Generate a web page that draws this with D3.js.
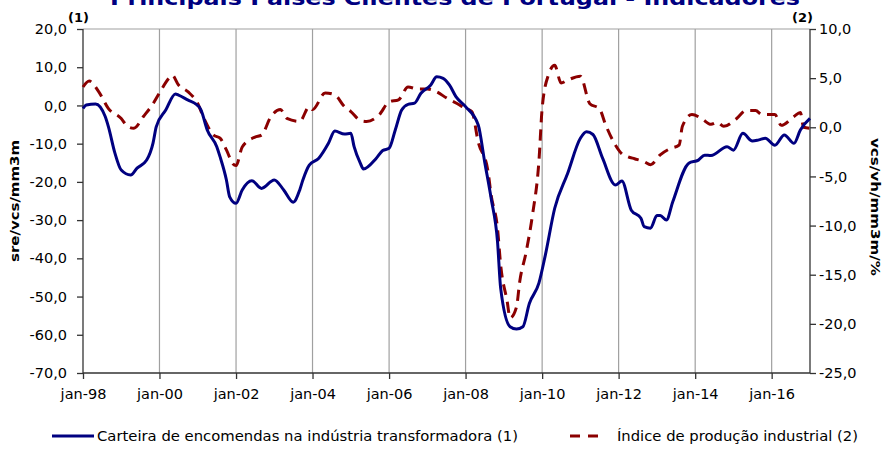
<!DOCTYPE html>
<html><head><meta charset="utf-8">
<script src="https://cdn.jsdelivr.net/npm/d3@7"></script>
<style>body{margin:0;background:#fff;} svg{display:block;} text{font-family:"DejaVu Sans",sans-serif;}</style>
</head><body>
<svg id="c" width="888" height="450"></svg>
<script>
const title = "Principais Países Clientes de Portugal - Indicadores";
const leftTicks = [20,10,0,-10,-20,-30,-40,-50,-60,-70];
const rightTicks = [10,5,0,-5,-10,-15,-20,-25];
const xTickYears = [1998,2000,2002,2004,2006,2008,2010,2012,2014,2016];
const seriesNames = ["Carteira de encomendas na indústria transformadora (1)", "Índice de produção industrial (2)"];

const carteiraDates = ["1998-01","1998-02","1998-05","1998-08","1998-09","1998-11","1999-01","1999-04","1999-06","1999-09","1999-11","1999-12","2000-03","2000-06","2000-07","2000-10","2000-12","2001-02","2001-04","2001-07","2001-08","2001-10","2001-11","2002-01","2002-03","2002-06","2002-09","2003-01","2003-04","2003-07","2003-09","2003-10","2003-12","2004-03","2004-06","2004-08","2004-11","2005-01","2005-02","2005-04","2005-05","2005-09","2005-11","2006-01","2006-03","2006-05","2006-07","2006-09","2006-11","2007-02","2007-04","2007-06","2007-08","2007-10","2008-01","2008-05","2008-07","2008-09","2008-11","2008-12","2009-03","2009-05","2009-07","2009-09","2009-12","2010-02","2010-05","2010-09","2011-01","2011-03","2011-05","2011-08","2011-12","2012-02","2012-05","2012-08","2012-09","2012-11","2013-01","2013-02","2013-04","2013-06","2013-11","2014-02","2014-04","2014-06","2014-11","2015-01","2015-04","2015-07","2015-09","2015-11","2016-02","2016-05","2016-08","2016-10","2017-01"];
const carteiraValues = [-0.8,0.1,0.4,-2.9,-5.6,-12.4,-16.9,-18.2,-16.4,-14.3,-9.8,-5.6,-1.2,3.0,2.7,1.4,0.6,-1.2,-6.4,-10.8,-13.4,-19.5,-23.9,-25.6,-22.1,-19.7,-21.7,-19.5,-22.1,-25.3,-22.1,-19.5,-15.6,-13.8,-9.9,-6.7,-7.5,-7.3,-10.8,-15.1,-16.6,-13.8,-11.8,-11.2,-6.4,-1.2,0.3,0.6,3.2,5.3,7.5,7.1,5.3,2.3,-0.3,-5.1,-14.7,-24.3,-35.6,-47.8,-57.9,-58.5,-57.9,-51.8,-46.5,-39.1,-26.9,-17.8,-8.6,-6.9,-7.6,-13.8,-20.8,-19.8,-27.4,-29.5,-31.7,-32.1,-28.8,-28.8,-30.0,-25.2,-15.1,-14.3,-13.0,-13.1,-10.8,-11.7,-7.3,-9.3,-9.0,-8.6,-10.4,-7.7,-9.9,-6.4,-3.4];

const indiceDates = ["1998-01","1998-03","1998-06","1998-09","1999-01","1999-03","1999-05","1999-08","1999-11","2000-01","2000-04","2000-05","2000-07","2000-10","2001-01","2001-03","2001-06","2001-08","2001-10","2001-12","2002-01","2002-03","2002-07","2002-09","2002-12","2003-03","2003-05","2003-09","2003-12","2004-01","2004-05","2004-08","2004-11","2005-01","2005-04","2005-06","2005-10","2006-01","2006-04","2006-07","2006-10","2007-01","2007-04","2007-07","2007-11","2008-01","2008-03","2008-05","2008-08","2008-09","2008-11","2008-12","2009-02","2009-03","2009-05","2009-06","2009-08","2009-10","2009-12","2010-01","2010-03","2010-05","2010-07","2010-09","2011-01","2011-04","2011-07","2011-09","2011-12","2012-02","2012-04","2012-06","2012-09","2012-11","2013-02","2013-05","2013-08","2013-09","2013-12","2014-03","2014-06","2014-08","2014-10","2015-02","2015-05","2015-08","2015-10","2016-02","2016-04","2016-08","2016-10","2016-11","2017-01"];
const indiceValues = [4.1,4.7,3.6,1.9,0.9,0.1,-0.1,1.1,2.4,3.5,5.0,5.3,4.3,3.6,2.4,0.9,-0.8,-1.1,-2.3,-3.7,-3.9,-2.0,-1.0,-0.8,1.1,1.8,0.9,0.6,2.1,1.8,3.5,3.3,2.1,1.6,0.7,0.6,1.3,2.6,2.8,4.1,3.9,3.9,3.6,3.0,2.3,1.9,1.6,-1.5,-4.4,-6.9,-10.3,-14.0,-17.7,-19.4,-18.3,-15.7,-12.7,-8.9,-3.5,1.9,5.3,6.3,4.5,4.8,5.2,2.4,1.9,0.2,-1.8,-2.7,-3.0,-3.2,-3.5,-3.8,-2.8,-2.2,-1.8,0.1,1.3,0.9,0.3,0.5,0.1,0.9,1.7,1.7,1.3,1.3,0.2,1.1,1.5,0.0,-0.1];

const parse = d3.timeParse("%Y-%m");
const svg = d3.select("#c");
const L = 83, R = 810, T = 29, B = 373;

const x = d3.scaleTime().domain([parse("1998-01"), parse("2017-01")]).range([L, R]);
const yL = d3.scaleLinear().domain([-70, 20]).range([B, T]);
const yR = d3.scaleLinear().domain([-25, 10]).range([B, T]);
const fmt = v => d3.format(".1f")(v).replace(".", ",").replace("−","-");

// gridlines
const xTicks = xTickYears.map(y => new Date(y, 0, 1));
svg.append("g").selectAll("line").data(xTicks.slice(1)).join("line")
  .attr("x1", d => x(d)).attr("x2", d => x(d)).attr("y1", T).attr("y2", B)
  .attr("stroke", "#a0a0a0").attr("stroke-width", 1.2);
// top border
svg.append("line").attr("x1", L).attr("x2", R).attr("y1", T).attr("y2", T).attr("stroke", "#a0a0a0").attr("stroke-width", 1.2);

// axes
const ax = svg.append("g").attr("transform", `translate(0,${B})`)
  .call(d3.axisBottom(x).tickValues(xTicks).tickSize(6).tickPadding(10).tickFormat(d => "jan-" + d3.timeFormat("%y")(d)));
const axL = svg.append("g").attr("transform", `translate(${L},0)`)
  .call(d3.axisLeft(yL).tickValues(leftTicks).tickSize(6).tickPadding(10).tickFormat(fmt));
const axR = svg.append("g").attr("transform", `translate(${R},0)`)
  .call(d3.axisRight(yR).tickValues(rightTicks).tickSize(6).tickPadding(3).tickFormat(fmt));
[ax, axL, axR].forEach(g => {
  g.select(".domain").attr("stroke", "#333").attr("stroke-width", 1.3);
  g.selectAll(".tick line").attr("stroke", "#333").attr("stroke-width", 1.3);
  g.selectAll("text").attr("font-size", 14.5).attr("fill", "#000").attr("font-family", "DejaVu Sans");
});
ax.select(".domain").attr("d", `M${L},0H${R}`);
axL.select(".domain").attr("d", `M0,${T}V${B}`);
axR.select(".domain").attr("d", `M0,${T}V${B}`);

// lines
const lineL = d3.line().x(d => x(d[0])).y(d => yL(d[1])).curve(d3.curveMonotoneX);
const lineR = d3.line().x(d => x(d[0])).y(d => yR(d[1])).curve(d3.curveMonotoneX);
const dataC = carteiraDates.map((d, i) => [parse(d), carteiraValues[i]]);
const dataI = indiceDates.map((d, i) => [parse(d), indiceValues[i]]);
svg.append("path").datum(dataI).attr("d", lineR).attr("fill", "none")
  .attr("stroke", "#8b0000").attr("stroke-width", 3).attr("stroke-dasharray", "11,7");
svg.append("path").datum(dataC).attr("d", lineL).attr("fill", "none")
  .attr("stroke", "#000080").attr("stroke-width", 3);

// title (clipped at the top edge, as in the reference)
svg.append("text").attr("x", 455).attr("y", 5).attr("text-anchor", "middle")
  .attr("font-size", 20).attr("font-weight", "bold").attr("fill", "#000080")
  .attr("textLength", 690).attr("lengthAdjust", "spacingAndGlyphs").text(title);

// (1) (2)
svg.append("text").attr("x", 68).attr("y", 22).attr("font-size", 13).attr("font-weight", "bold").text("(1)");
svg.append("text").attr("x", 792).attr("y", 22).attr("font-size", 13).attr("font-weight", "bold").text("(2)");

// axis titles
svg.append("text").attr("transform", "translate(19,201) rotate(-90)").attr("text-anchor", "middle")
  .attr("font-size", 13).attr("font-weight", "bold").attr("textLength", 122).attr("lengthAdjust", "spacingAndGlyphs").text("sre/vcs/mm3m");
svg.append("text").attr("transform", "translate(871,207) rotate(90)").attr("text-anchor", "middle")
  .attr("font-size", 13).attr("font-weight", "bold").attr("textLength", 138).attr("lengthAdjust", "spacingAndGlyphs").text("vcs/vh/mm3m/%");

// legend
const lg = svg.append("g");
lg.append("line").attr("x1", 52).attr("x2", 94).attr("y1", 436).attr("y2", 436).attr("stroke", "#000080").attr("stroke-width", 3);
lg.append("text").attr("x", 97).attr("y", 441).attr("font-size", 14.5).attr("textLength", 421).attr("lengthAdjust", "spacingAndGlyphs").text(seriesNames[0]);
lg.append("line").attr("x1", 570).attr("x2", 602).attr("y1", 436).attr("y2", 436).attr("stroke", "#8b0000").attr("stroke-width", 3).attr("stroke-dasharray", "10,8");
lg.append("text").attr("x", 617).attr("y", 441).attr("font-size", 14.5).attr("textLength", 241).attr("lengthAdjust", "spacingAndGlyphs").text(seriesNames[1]);
</script>
</body></html>
